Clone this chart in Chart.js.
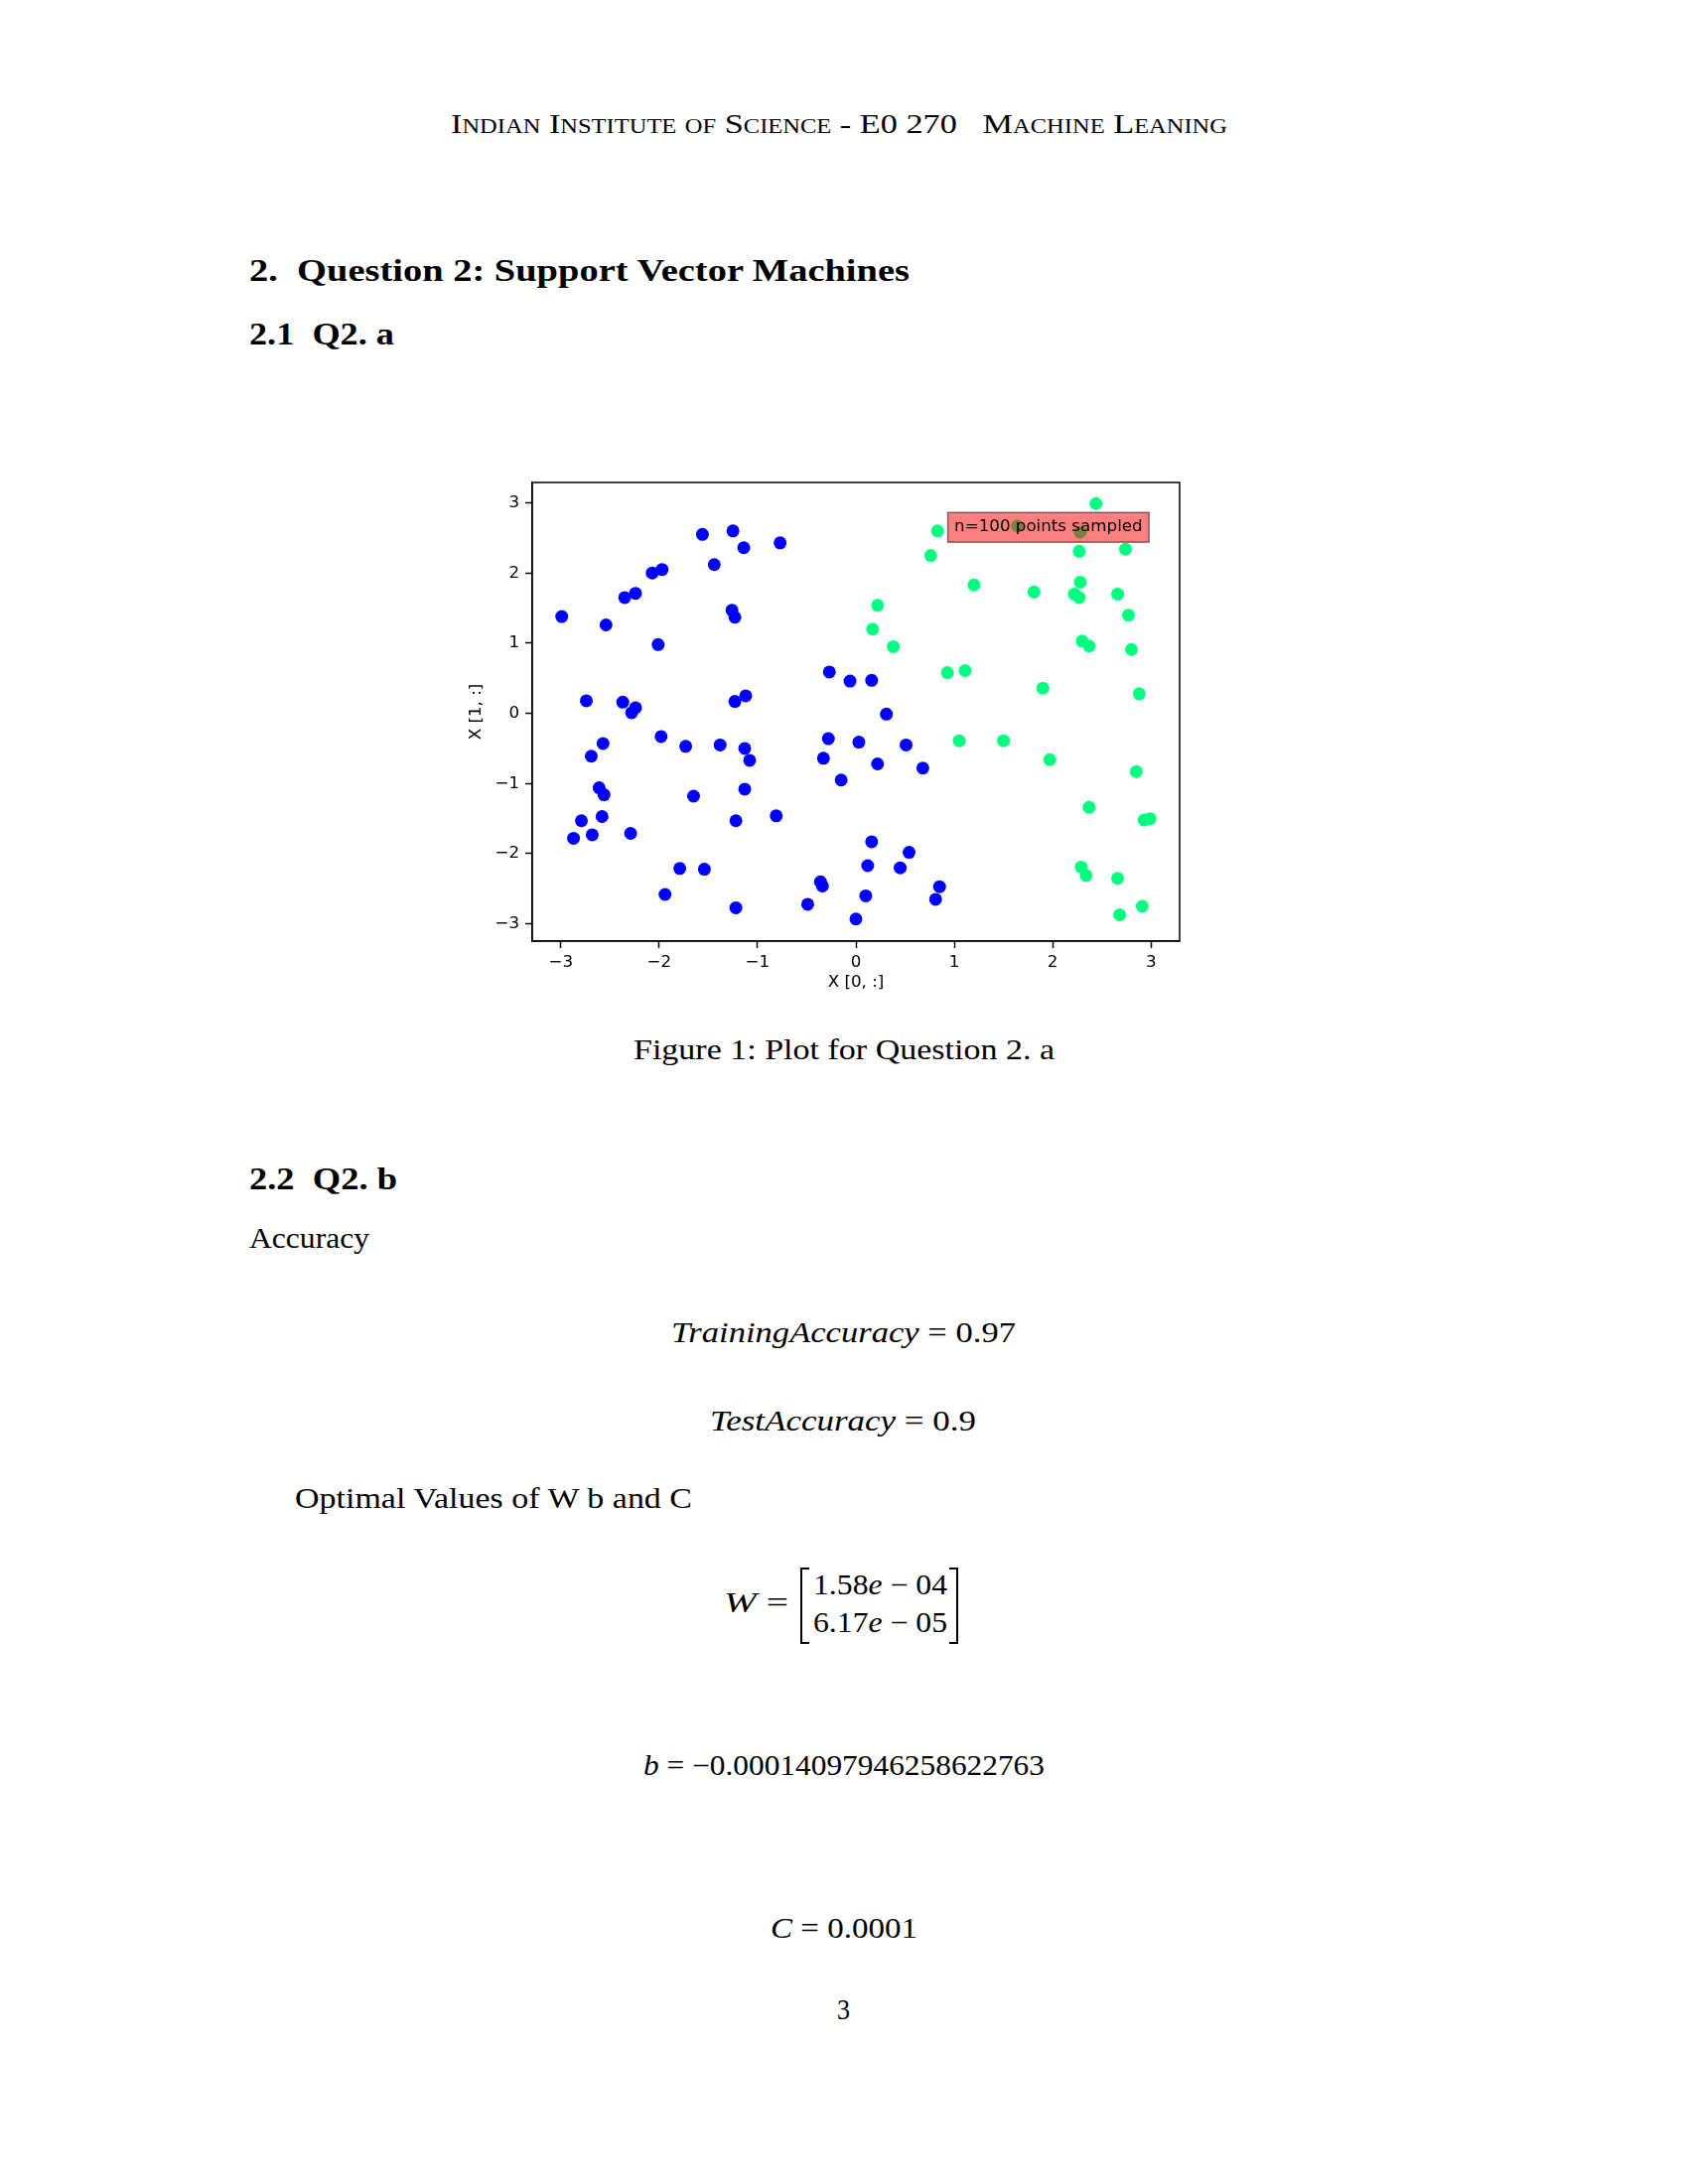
<!DOCTYPE html>
<html><head><meta charset="utf-8">
<script src="https://cdn.jsdelivr.net/npm/chart.js@4.4.1/dist/chart.umd.min.js"></script>
<style>
html,body{margin:0;padding:0;background:#fff;}
#page{position:relative;width:1700px;height:2200px;background:#fff;overflow:hidden;font-family:"Liberation Serif","Times New Roman",serif;color:#000;}
.t{position:absolute;white-space:nowrap;line-height:1;transform-origin:0 0;}
.b{font-weight:bold;}
.sc{font-variant:small-caps;}
#chartBox{position:absolute;left:440px;top:470px;width:780px;height:540px;}
.brk{position:absolute;border-top:2px solid #000;border-bottom:2px solid #000;}
</style></head><body><div id="page">
<div class="t sc" data-l="454" data-b="134" data-fs="28" data-w="782">Indian Institute of Science - E0 270&nbsp;&nbsp;&nbsp;Machine Leaning</div>
<div class="t b" data-l="251" data-b="283" data-fs="31.5" data-w="665">2.&nbsp; Question 2: Support Vector Machines</div>
<div class="t b" data-l="251" data-b="346.5" data-fs="31.5" data-w="146">2.1&nbsp; Q2. a</div>
<div id="chartBox"><canvas id="c" width="780" height="540"></canvas></div>
<div class="t" data-l="638" data-b="1067" data-fs="28.5" data-w="424">Figure 1: Plot for Question 2. a</div>
<div class="t b" data-l="251" data-b="1198" data-fs="31.5" data-w="149">2.2&nbsp; Q2. b</div>
<div class="t" data-l="251" data-b="1257" data-fs="28.5" data-w="121">Accuracy</div>
<div class="t" data-l="676" data-b="1352" data-fs="28.5" data-w="347"><i>TrainingAccuracy</i> = 0.97</div>
<div class="t" data-l="715" data-b="1440.5" data-fs="28.5" data-w="268"><i>TestAccuracy</i> = 0.9</div>
<div class="t" data-l="297" data-b="1519" data-fs="28.5" data-w="400">Optimal Values of W b and C</div>
<div class="t" data-l="729" data-b="1624" data-fs="28.5" data-w="65"><i>W</i> =</div>
<div class="brk" style="left:806px;top:1579px;width:7px;height:73px;border-left:2px solid #000;"></div>
<div class="brk" style="left:956px;top:1579px;width:7px;height:73px;border-right:2px solid #000;"></div>
<div class="t" data-l="819" data-b="1606" data-fs="28.5" data-w="135">1.58<i>e</i> − 04</div>
<div class="t" data-l="819" data-b="1644" data-fs="28.5" data-w="135">6.17<i>e</i> − 05</div>
<div class="t" data-l="648" data-b="1788" data-fs="28.5" data-w="404"><i>b</i> = −0.00014097946258622763</div>
<div class="t" data-l="776" data-b="1952" data-fs="28.5" data-w="148"><i>C</i> = 0.0001</div>
<div class="t" data-l="843" data-b="2034" data-fs="28.5" data-w="13">3</div>
</div>
<script>
// ---- data ----
const class0X = [-2.99,-1.56,-1.25,-1.14,-0.77,-1.44,-2.07,-1.97,-2.35,-2.24,-2.54,-1.26,-1.23,-2.01,-0.27,-2.74,-2.37,-2.28,-2.24,-1.23,-1.12,-0.06,0.16,0.31,0.03,0.51,0.22,0.68,-0.15,0.16,0.54,0.12,0.45,0.85,0.81,0.10,0.00,-1.98,-2.57,-2.69,-1.73,-1.38,-1.13,-1.08,-0.28,-0.33,-2.61,-2.56,-1.65,-1.13,-2.79,-2.58,-0.81,-1.22,-2.87,-2.68,-2.29,-1.79,-1.54,-1.94,-1.22,-0.36,-0.34,-0.49];
const class0Y = [1.38,2.55,2.60,2.36,2.43,2.12,2.00,2.05,1.65,1.71,1.26,1.47,1.37,0.98,0.59,0.18,0.16,0.01,0.08,0.17,0.25,0.46,0.47,-0.01,-0.41,-0.45,-0.72,-0.78,-0.95,-1.83,-1.98,-2.17,-2.20,-2.47,-2.65,-2.60,-2.93,-0.33,-0.43,-0.61,-0.47,-0.45,-0.50,-0.67,-0.36,-0.64,-1.06,-1.16,-1.18,-1.08,-1.53,-1.47,-1.46,-1.53,-1.78,-1.73,-1.71,-2.21,-2.22,-2.58,-2.77,-2.40,-2.46,-2.72];
const class1X = [2.44,0.83,1.64,2.28,0.76,2.27,2.74,1.20,2.28,1.81,2.22,2.27,2.66,0.22,2.77,0.17,0.38,2.30,2.37,2.80,0.93,1.11,1.90,2.88,1.05,1.50,1.97,2.85,2.37,2.93,2.99,2.29,2.34,2.66,2.91,2.68];
const class1Y = [2.99,2.60,2.67,2.58,2.25,2.31,2.34,1.83,1.87,1.73,1.70,1.65,1.70,1.54,1.40,1.20,0.95,1.03,0.96,0.91,0.58,0.61,0.36,0.28,-0.39,-0.39,-0.66,-0.83,-1.34,-1.52,-1.50,-2.19,-2.31,-2.35,-2.75,-2.87];
const xTickValues = [-3,-2,-1,0,1,2,3];
const yTickValues = [-3,-2,-1,0,1,2,3];
const xRange = [-3.29, 3.29];
const yRange = [-3.245, 3.29];
const xAxisTitle = 'X [0, :]';
const yAxisTitle = 'X [1, :]';
const annotationText = 'n=100 points sampled';
const annotationAnchor = [1, 2.6];

// ---- text placement (layout only) ----
document.querySelectorAll('.t').forEach(el => {
  const fs = parseFloat(el.dataset.fs);
  el.style.fontSize = fs + 'px';
  const m = document.createElement('span');
  m.style.display = 'inline-block'; m.style.width = '0'; m.style.height = '0';
  el.appendChild(m);
  el.style.left = el.dataset.l + 'px';
  el.style.top = '0px';
  const base = m.offsetTop;
  el.style.top = (parseFloat(el.dataset.b) - base) + 'px';
  const w = el.getBoundingClientRect().width;
  const target = parseFloat(el.dataset.w);
  el.style.transform = 'scaleX(' + (target / w) + ')';
});

// ---- chart ----
const FS = 16.7;
const fmt = v => (v < 0 ? '\u2212' + Math.abs(v) : String(v));
const framePlugin = {
  id: 'frameAndNote',
  afterDatasetsDraw(chart) {
    const {ctx, chartArea: a, scales} = chart;
    ctx.save();
    ctx.font = FS + 'px "DejaVu Sans"';
    const tx = scales.x.getPixelForValue(annotationAnchor[0]);
    const ty = scales.y.getPixelForValue(annotationAnchor[1]);
    const w = ctx.measureText(annotationText).width;
    const x0 = tx - 0.39 * FS, x1 = tx + w + 0.39 * FS;
    const y0 = ty - 1.11 * FS, y1 = ty + 0.68 * FS;
    ctx.fillStyle = 'rgba(255,0,0,0.5)';
    ctx.fillRect(x0, y0, x1 - x0, y1 - y0);
    ctx.strokeStyle = 'rgba(0,0,0,0.5)';
    ctx.lineWidth = 1.5;
    ctx.strokeRect(x0, y0, x1 - x0, y1 - y0);
    ctx.fillStyle = '#000';
    ctx.textAlign = 'left';
    ctx.textBaseline = 'alphabetic';
    ctx.fillText(annotationText, tx, ty);
    ctx.strokeStyle = '#000';
    ctx.lineWidth = 1.5;
    ctx.strokeRect(a.left, a.top, a.right - a.left, a.bottom - a.top);
    ctx.restore();
  }
};
const tickFont = {family: 'DejaVu Sans', size: FS};
new Chart(document.getElementById('c'), {
  type: 'scatter',
  data: {
    datasets: [
      {data: class0X.map((x, i) => ({x, y: class0Y[i]})), backgroundColor: '#0000ff', borderWidth: 0, pointRadius: 6.5, pointHoverRadius: 6.5},
      {data: class1X.map((x, i) => ({x, y: class1Y[i]})), backgroundColor: '#00ff80', borderWidth: 0, pointRadius: 6.5, pointHoverRadius: 6.5}
    ]
  },
  options: {
    responsive: false,
    animation: false,
    devicePixelRatio: 1,
    layout: {padding: {top: 15, right: 32, left: 0, bottom: 0}},
    plugins: {legend: {display: false}, tooltip: {enabled: false}},
    scales: {
      x: {
        type: 'linear', min: xRange[0], max: xRange[1],
        afterBuildTicks: s => { s.ticks = xTickValues.map(v => ({value: v})); },
        afterFit: s => { s.height = 62; },
        grid: {display: true, drawOnChartArea: false, drawTicks: true, tickLength: 7, tickColor: '#000', tickWidth: 1.5},
        border: {display: true, color: '#000', width: 1.5},
        ticks: {color: '#000', font: tickFont, padding: 5, autoSkip: false, maxRotation: 0, callback: v => fmt(v)},
        title: {display: true, text: xAxisTitle, color: '#000', font: tickFont, padding: {top: 0, bottom: 10}}
      },
      y: {
        type: 'linear', min: yRange[0], max: yRange[1],
        afterBuildTicks: s => { s.ticks = yTickValues.map(v => ({value: v})); },
        afterFit: s => { s.width = 96; },
        grid: {display: true, drawOnChartArea: false, drawTicks: true, tickLength: 7, tickColor: '#000', tickWidth: 1.5},
        border: {display: true, color: '#000', width: 1.5},
        ticks: {color: '#000', font: tickFont, padding: 6, autoSkip: false, callback: v => fmt(v)},
        title: {display: true, text: yAxisTitle, color: '#000', font: tickFont, padding: {top: 30, bottom: 0}}
      }
    }
  },
  plugins: [framePlugin]
});
</script>
</body></html>
